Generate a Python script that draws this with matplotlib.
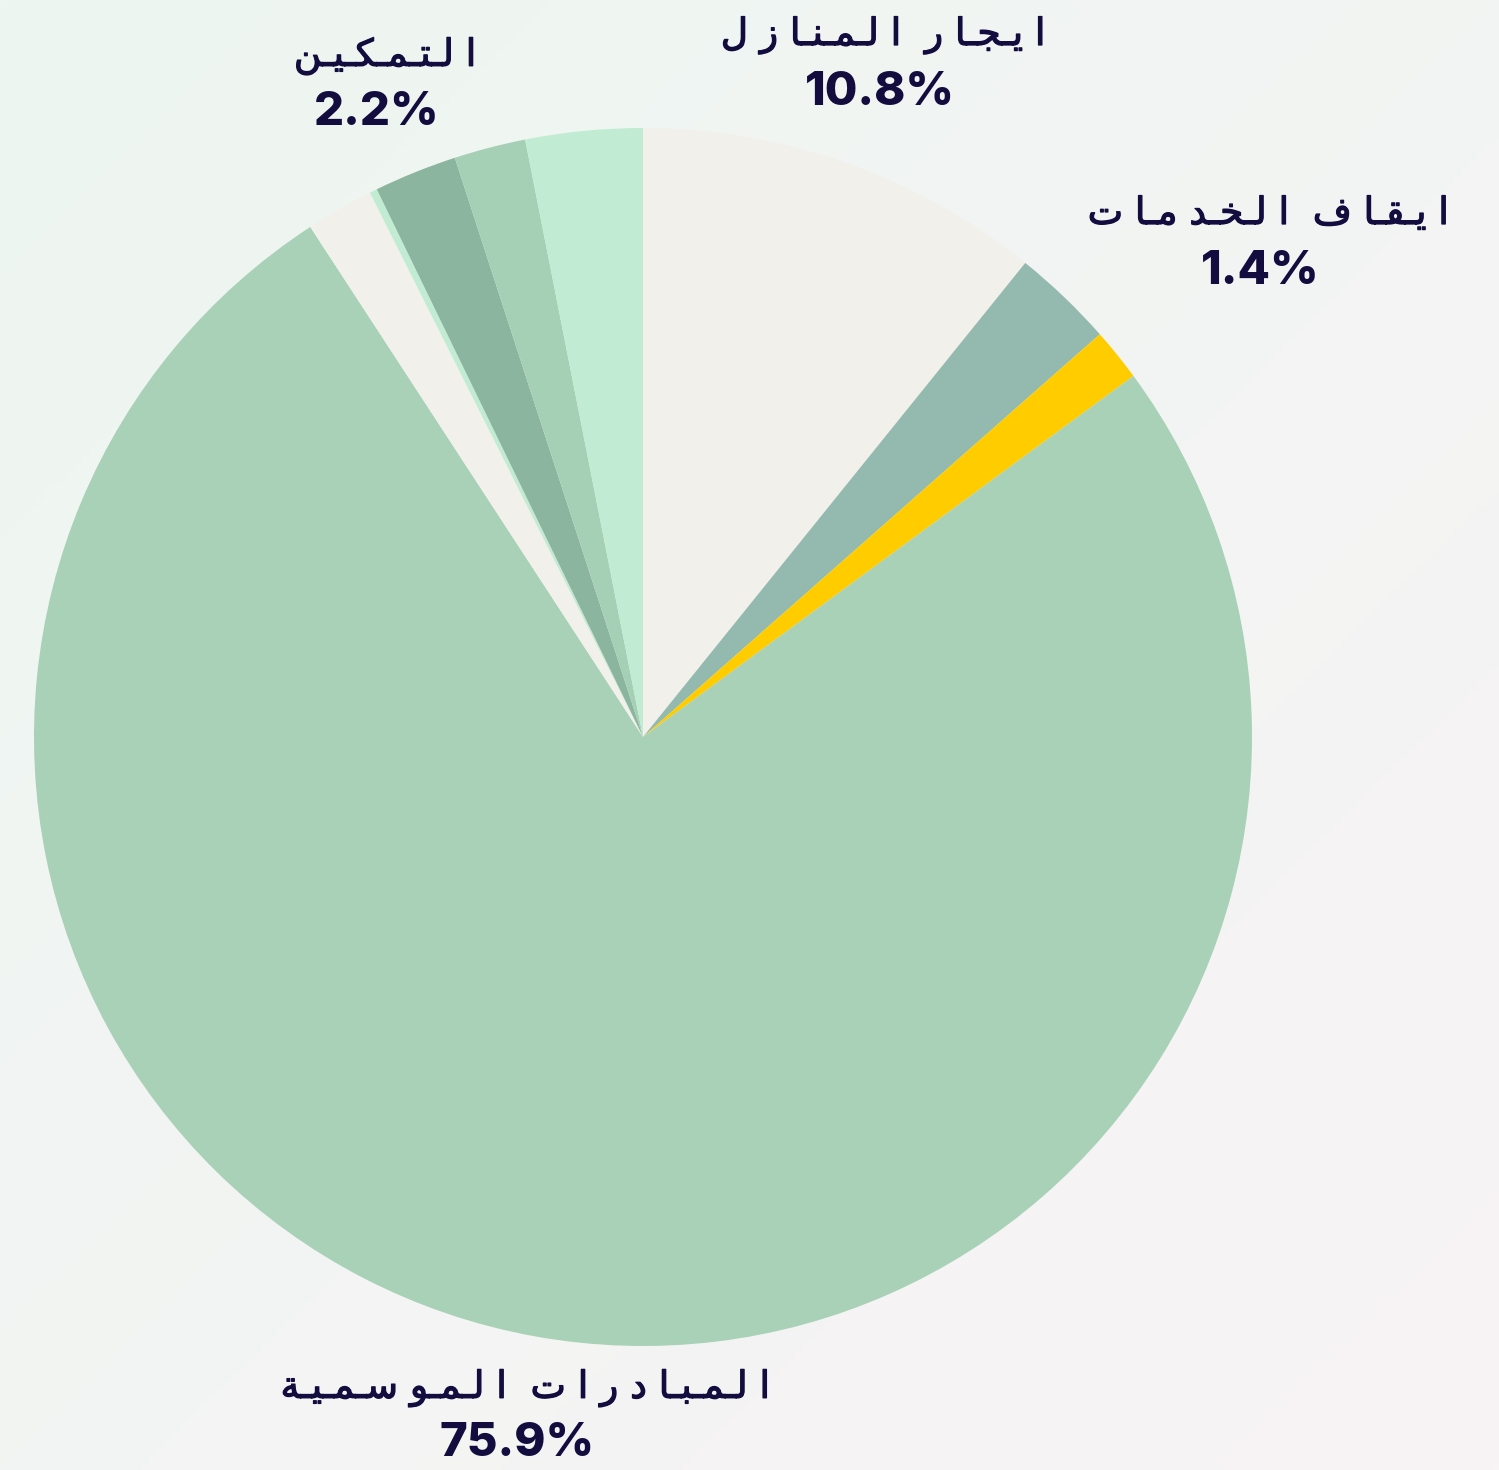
import numpy as np
import matplotlib
matplotlib.use("Agg")
import matplotlib.pyplot as plt
import matplotlib.patheffects as pe

# slices, clockwise from 12 o'clock
shares = [10.8, 2.7, 1.4, 75.9, 1.8, 0.2, 2.2, 1.9, 3.1]
colors = ["#f2f0eb", "#94b9ae", "#ffcc00", "#a8d1b7", "#f2f0eb",
          "#c1ebd3", "#8bb59e", "#a6d0b6", "#c1ecd3"]
labels = ["ايجار المنازل", "", "ايقاف الخدمات", "المبادرات الموسمية",
          "", "", "التمكين", "", ""]

# label anchor (pixel coords in the 1499x1470 picture, y down)
label_pos = {0: (883, 35), 2: (1268, 214), 3: (525, 1388), 6: (385, 56)}
pct_pos = {0: (880, 93), 2: (1260, 272), 3: (517, 1444), 6: (377, 113)}

NAVY = "#120d3e"
W, H = 1499, 1470

# presentation forms: (isolated, final, initial, medial); None = no left join
FORMS = {
    "ا": ("\uFE8D", "\uFE8E", None, None),
    "ي": ("\uFEF1", "\uFEF2", "\uFEF3", "\uFEF4"),
    "ج": ("\uFE9D", "\uFE9E", "\uFE9F", "\uFEA0"),
    "ر": ("\uFEAD", "\uFEAE", None, None),
    "ل": ("\uFEDD", "\uFEDE", "\uFEDF", "\uFEE0"),
    "م": ("\uFEE1", "\uFEE2", "\uFEE3", "\uFEE4"),
    "ن": ("\uFEE5", "\uFEE6", "\uFEE7", "\uFEE8"),
    "ز": ("\uFEAF", "\uFEB0", None, None),
    "ق": ("\uFED5", "\uFED6", "\uFED7", "\uFED8"),
    "ف": ("\uFED1", "\uFED2", "\uFED3", "\uFED4"),
    "خ": ("\uFEA5", "\uFEA6", "\uFEA7", "\uFEA8"),
    "د": ("\uFEA9", "\uFEAA", None, None),
    "ت": ("\uFE95", "\uFE96", "\uFE97", "\uFE98"),
    "ك": ("\uFED9", "\uFEDA", "\uFEDB", "\uFEDC"),
    "ب": ("\uFE8F", "\uFE90", "\uFE91", "\uFE92"),
    "و": ("\uFEED", "\uFEEE", None, None),
    "س": ("\uFEB1", "\uFEB2", "\uFEB3", "\uFEB4"),
    "ة": ("\uFE93", "\uFE94", None, None),
}


def spaced_arabic(text):
    """Shape arabic by hand, spread the letters, return left-to-right order."""
    out = []
    for word in text.split(" "):
        glyphs = []
        n = len(word)
        for i, ch in enumerate(word):
            f = FORMS[ch]
            prev_joins = i > 0 and FORMS[word[i - 1]][2] is not None
            next_joins = i < n - 1 and f[2] is not None
            if prev_joins and next_joins:
                g = f[3]
            elif prev_joins:
                g = f[1]
            elif next_joins:
                g = f[2]
            else:
                g = f[0]
            glyphs.append(g)
            if i < n - 1:
                glyphs.append("\u0640" if next_joins else " ")
        out.append("".join(reversed(glyphs)))
    return "  ".join(reversed(out))


fig = plt.figure(figsize=(W / 100, H / 100), dpi=100)

# soft diagonal background
bg = fig.add_axes([0, 0, 1, 1], zorder=0)
yy, xx = np.mgrid[0:1:200j, 0:1:200j]
t = (xx + yy) / 2
c0 = np.array([237, 246, 241]) / 255
c1 = np.array([248, 243, 245]) / 255
img = c0[None, None, :] * (1 - t[..., None]) + c1[None, None, :] * t[..., None]
bg.imshow(img, extent=[0, 1, 0, 1], aspect="auto", origin="upper")
bg.axis("off")

ax = fig.add_axes([0, 0, 1, 1], zorder=1)
ax.patch.set_alpha(0)
ax.pie(shares, colors=colors, startangle=90, counterclock=False,
       center=(643, H - 737), radius=609,
       wedgeprops=dict(linewidth=0))
ax.set_xlim(0, W)
ax.set_ylim(0, H)
ax.set_aspect("auto")
ax.axis("off")

thick = [pe.withStroke(linewidth=0.9, foreground=NAVY)]
for i, lab in enumerate(labels):
    if not lab:
        continue
    lx, ly = label_pos[i]
    px, py = pct_pos[i]
    ax.text(lx, H - ly, spaced_arabic(lab), ha="center", va="center",
            fontsize=27, family="DejaVu Sans", color=NAVY, path_effects=thick)
    ax.text(px, H - py, f"{shares[i]}%", ha="center", va="center",
            fontsize=34, family="Inter", fontweight=800, color=NAVY)

fig.savefig("out.png", dpi=100)
